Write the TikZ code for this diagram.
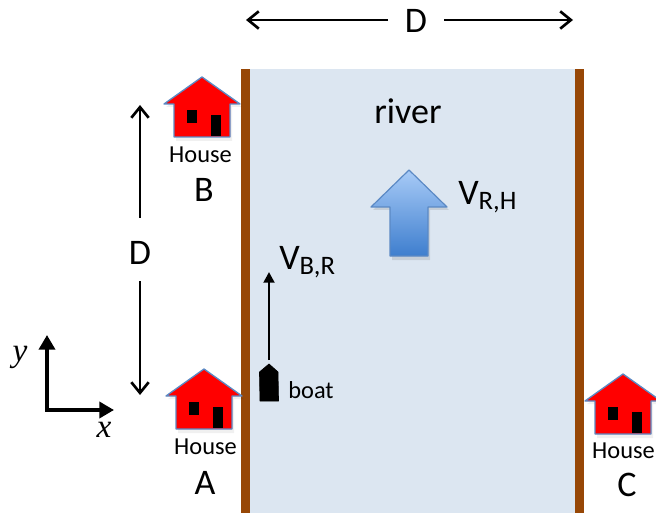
\documentclass[tikz,border=0pt]{standalone}
\usepackage{fontspec}
\setmainfont{Carlito}
\newfontfamily\mathlike[Ligatures=TeX]{Liberation Serif}
\usetikzlibrary{arrows.meta}
\definecolor{riverblue}{HTML}{DCE6F1}
\definecolor{bank}{HTML}{974706}
\definecolor{outline}{HTML}{5B89C4}
\newcommand{\fs}[1]{\fontsize{#1}{#1}\selectfont}
\newcommand{\vel}[1]{{\fs{27}V}\raisebox{-0.85ex}{\fs{20}#1}}
\tikzset{
  x=0.75pt,y=-0.75pt,
  biglabel/.style={inner sep=0pt,font=\fs{27}},
  smalllabel/.style={inner sep=0pt,font=\fs{18.3}},
  axislabel/.style={inner sep=0pt,font=\fs{25}\mathlike\itshape},
  thinarrow/.style={draw=black,line width=2pt,-{Straight Barb[length=8pt,width=13pt,line width=2pt]}},
  flowarrow/.style={draw=black,line width=2pt,-{Triangle[length=8pt,width=8pt]}},
  axisarrow/.style={draw=black,line width=2.7pt,-{Triangle[length=11pt,width=12pt]}},
  house/.pic={
    \fill[black,opacity=.06] (-36,30)--(-26,30)--(-26,64)--(30,64)--(30,30)--(40,30)--(2,2)--cycle;
    \filldraw[fill=red,draw=outline,line width=1pt,line join=round]
      (0,0)--(38,27)--(28,27)--(28,60)--(-28,60)--(-28,27)--(-38,27)--cycle;
    \fill[black] (-15,33) rectangle (-5,46);
    \fill[black] (9,38) rectangle (19,59);
  }
}
\begin{document}
\begin{tikzpicture}
\useasboundingbox (0,0) rectangle (656,513);
% river and banks
\fill[riverblue] (250,69) rectangle (575,513);
\fill[bank] (241,69) rectangle (250,513);
\fill[bank] (575,69) rectangle (584,513);
% houses
\pic at (202,77) {house};
\pic at (204,369) {house};
\pic at (623,374) {house};
\node[smalllabel] (houseB) at (200.5,155) {House};
\node[biglabel] (labelB) at (204,190) {B};
\node[smalllabel] (houseA) at (205.5,447) {House};
\node[biglabel] (labelA) at (205,483) {A};
\node[smalllabel] (houseC) at (623.5,451) {House};
\node[biglabel] (labelC) at (627,485) {C};
% dimension D
\node[biglabel] (topD) at (416,21) {D};
\coordinate (topL) at (246,20);
\coordinate (topLi) at (388,20);
\coordinate (topR) at (573,20);
\coordinate (topRi) at (444,20);
\draw[thinarrow] (topLi) -- (topL);
\draw[thinarrow] (topRi) -- (topR);
\node[biglabel] (sideD) at (140,253) {D};
\coordinate (sideT) at (140,105);
\coordinate (sideTi) at (140,218);
\coordinate (sideB) at (140,395);
\coordinate (sideBi) at (140,281);
\draw[thinarrow] (sideTi) -- (sideT);
\draw[thinarrow] (sideBi) -- (sideB);
% river
\node[biglabel] (river) at (408,111) {river};
\fill[black,opacity=.10] (373,210)--(392,210)--(392,260)--(430,260)--(430,210)--(449,210)--(411,173)--cycle;
\draw[outline,line width=.9pt,line join=round,top color={rgb,255:red,168;green,203;blue,247},bottom color={rgb,255:red,62;green,126;blue,206}]
  (409,170)--(447,207)--(428,207)--(428,256)--(390,256)--(390,207)--(371,207)--cycle;
\node[inner sep=0pt,anchor=west] (vrh) at (458,197) {\vel{R,H}};
% boat
\filldraw[fill=black,draw=black,line width=.5pt,line join=round] (269,364)--(278,372)--(278.5,401)--(260,401)--(259.5,372)--cycle;
\coordinate (boatTop) at (269,360);
\coordinate (boatTip) at (269,272);
\draw[flowarrow] (boatTop) -- (boatTip);
\node[inner sep=0pt,anchor=west] (vbr) at (279,262) {\vel{B,R}};
\node[smalllabel] (boat) at (311,390) {boat};
% axes
\coordinate (origin) at (47,410);
\coordinate (yEnd) at (47,335);
\coordinate (xEnd) at (114,410);
\draw[axisarrow] ([yshift=-1.35pt]origin) -- (yEnd);
\draw[axisarrow] ([xshift=-1.35pt]origin) -- (xEnd);
\node[axislabel] (ylab) at (20,357) {y};
\node[axislabel] (xlab) at (104,430) {x};
\end{tikzpicture}
\end{document}
